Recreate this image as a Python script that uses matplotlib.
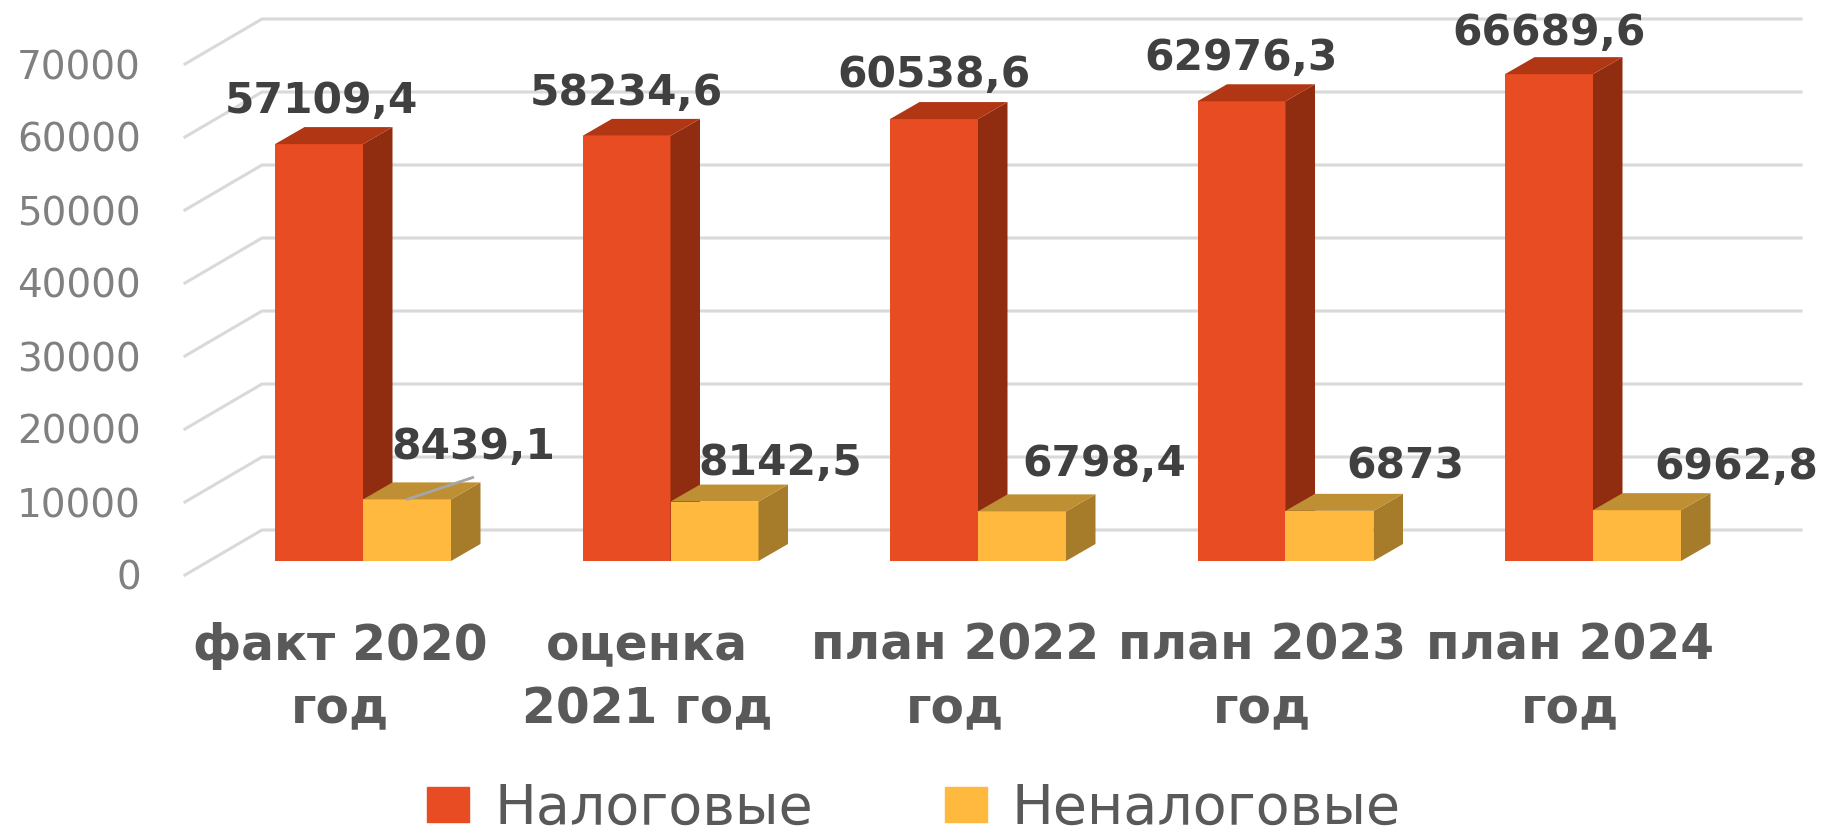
import matplotlib
matplotlib.use("Agg")
import matplotlib.pyplot as plt
from matplotlib.patches import Polygon, Patch

categories = ["факт 2020\nгод", "оценка\n2021 год", "план 2022\nгод", "план 2023\nгод", "план 2024\nгод"]
tax = [57109.4, 58234.6, 60538.6, 62976.3, 66689.6]
nontax = [8439.1, 8142.5, 6798.4, 6873, 6962.8]
tax_labels = ["57109,4", "58234,6", "60538,6", "62976,3", "66689,6"]
nontax_labels = ["8439,1", "8142,5", "6798,4", "6873", "6962,8"]
y_ticks = [0, 10000, 20000, 30000, 40000, 50000, 60000, 70000]

W, H = 1838, 838
# plot box in pixels, x and y scale of the picture
LEFT, RIGHT, BOTTOM, TOP = 185, 1801, 575, 64
CAT_PX = 307.5
ZERO_PX = 363
Y_PX = (BOTTOM - TOP) / 70000

BAR_W = 88 / CAT_PX
DX, DY = 29.5 / CAT_PX, 17 / Y_PX       # depth of a bar
BASE = 14 / Y_PX                        # bars stand a little behind the front edge
WALL_X, WALL_Y = 77 / CAT_PX, 45 / Y_PX  # front edge to back wall

RED = ("#E84C22", "#902C10", "#B03614")
YEL = ("#FFB93F", "#A67C2B", "#BE8F33")
TEXT = "#404040"

# label centres relative to the bar, in pixels
tax_shift = [(46, 43), (44, 43), (44, 44), (44, 43), (44, 41)]
nontax_shift = [(110, 52), (110, 39), (126, 47), (120, 44), (143, 43)]


def px_pt(v):
    return v * 72 / 100


def draw_bar(ax, x, value, colors):
    ax.bar(x, value, BAR_W, bottom=BASE, align="edge", color=colors[0], zorder=3)
    top = BASE + value
    side = [(x + BAR_W, BASE), (x + BAR_W + DX, BASE + DY), (x + BAR_W + DX, top + DY), (x + BAR_W, top)]
    roof = [(x, top), (x + DX, top + DY), (x + BAR_W + DX, top + DY), (x + BAR_W, top)]
    ax.add_patch(Polygon(side, closed=True, color=colors[1], lw=0, zorder=3, clip_on=False))
    ax.add_patch(Polygon(roof, closed=True, color=colors[2], lw=0, zorder=3, clip_on=False))


fig = plt.figure(figsize=(W / 100, H / 100), dpi=100)
ax = fig.add_axes([LEFT / W, 1 - BOTTOM / H, (RIGHT - LEFT) / W, (BOTTOM - TOP) / H])
x0 = (LEFT - ZERO_PX) / CAT_PX
x1 = (RIGHT - ZERO_PX) / CAT_PX
ax.set_xlim(x0, x1)
ax.set_ylim(0, 70000)

# gridlines on the side and back walls
for v in y_ticks:
    ax.plot([x0, x0 + WALL_X, x1], [v, v + WALL_Y, v + WALL_Y], color="#D9D9D9", lw=2.2,
            clip_on=False, zorder=1, solid_joinstyle="round")

for i in range(len(categories)):
    draw_bar(ax, i - BAR_W, tax[i], RED)
    draw_bar(ax, i, nontax[i], YEL)

    dx, dy = tax_shift[i]
    ax.annotate(tax_labels[i], (i - BAR_W, BASE + tax[i]), xytext=(px_pt(dx), px_pt(dy)),
                textcoords="offset points", ha="center", va="center", fontsize=30.5,
                fontweight="bold", color=TEXT, zorder=5, annotation_clip=False)
    dx, dy = nontax_shift[i]
    ax.annotate(nontax_labels[i], (i, BASE + nontax[i]), xytext=(px_pt(dx), px_pt(dy)),
                textcoords="offset points", ha="center", va="center", fontsize=30.5,
                fontweight="bold", color=TEXT, zorder=5, annotation_clip=False)

# leader line of the first small label
ax.annotate("", (BAR_W / 2, BASE + nontax[0]), xytext=(px_pt(110 - 44), px_pt(22)),
            textcoords=("offset points"), zorder=6, annotation_clip=False,
            arrowprops=dict(arrowstyle="-", color="#A6A6A6", lw=2, shrinkA=0, shrinkB=0,
                            relpos=(0.5, 0.5)))

ax.set_xticks([i - 0.075 for i in range(len(categories))], categories)
ax.set_yticks(y_ticks)
ax.tick_params(axis="x", length=0, pad=px_pt(47), labelsize=35, labelcolor="#595959")
ax.tick_params(axis="y", length=0, pad=px_pt(44), labelsize=28, labelcolor="#808080")
for t in ax.get_xticklabels():
    t.set_fontweight("bold")
    t.set_linespacing(1.4)
for s in ax.spines.values():
    s.set_visible(False)
ax.patch.set_visible(False)

handles = [Patch(color=RED[0], label="Налоговые"), Patch(color=YEL[0], label="Неналоговые")]
fig.legend(handles=handles, loc="center", bbox_to_anchor=(914 / W, 1 - 809 / H), ncol=2, frameon=False,
           fontsize=40, labelcolor="#595959", handlelength=0.76, handleheight=0.58,
           handletextpad=0.45, columnspacing=2.37, borderpad=0)

fig.savefig("out.png", dpi=100)
plt.close(fig)
